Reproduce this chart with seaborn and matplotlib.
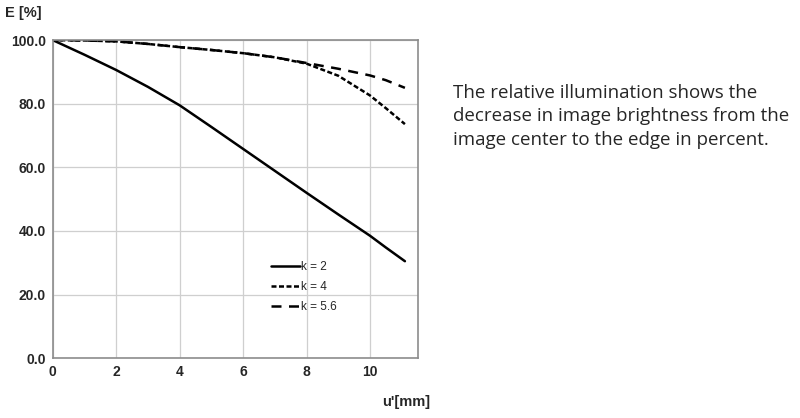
import matplotlib
matplotlib.use("Agg")
import matplotlib.pyplot as plt
import seaborn as sns
import pandas as pd

# image height u' [mm]
u = [0, 1, 2, 3, 4, 5, 6, 7, 8, 9, 10, 10.5, 11.1]
# relative illumination E [%] per f-number
e_k2 = [100, 95.4, 90.6, 85.3, 79.5, 72.7, 65.8, 58.9, 52.0, 45.2, 38.5, 34.8, 30.5]
e_k4 = [100, 99.9, 99.6, 98.8, 97.8, 96.9, 95.9, 94.6, 92.6, 88.8, 82.6, 78.6, 73.6]
e_k56 = [100, 99.9, 99.6, 98.8, 97.8, 96.9, 95.9, 94.6, 92.8, 91.0, 88.9, 87.4, 85.0]
labels = ["k = 2", "k = 4", "k = 5.6"]

df = pd.concat([
    pd.DataFrame({"u": u, "E": e_k2, "k": labels[0]}),
    pd.DataFrame({"u": u, "E": e_k4, "k": labels[1]}),
    pd.DataFrame({"u": u, "E": e_k56, "k": labels[2]}),
])

sns.set_style("white")
plt.rcParams["font.family"] = ["Liberation Sans", "DejaVu Sans"]

fig = plt.figure(figsize=(8, 4.18), dpi=100)
ax = fig.add_axes([0.066, 0.143, 0.456, 0.761])

sns.lineplot(data=df, x="u", y="E", style="k", color="black",
             dashes={"k = 2": "", "k = 4": (2, 1), "k = 5.6": (4, 3)},
             linewidth=1.8, ax=ax)

ax.set_xlim(0, 11.5)
ax.set_ylim(0, 100)
ax.set_xticks([0, 2, 4, 6, 8, 10])
ax.set_yticks([0, 20, 40, 60, 80, 100])
ax.set_yticklabels([f"{v:.1f}" for v in [0, 20, 40, 60, 80, 100]])
ax.grid(True, color="#cfcfcf", linewidth=0.9)
for s in ax.spines.values():
    s.set_color("#8c8c8c")
    s.set_linewidth(1.2)
ax.tick_params(axis="both", labelsize=10, length=3, color="#8c8c8c", pad=2)
for t in ax.get_xticklabels() + ax.get_yticklabels():
    t.set_fontweight("bold")
ax.set_xlabel("")
ax.set_ylabel("")

leg = ax.legend(loc="upper left", bbox_to_anchor=(0.57, 0.34), frameon=False,
                handlelength=2.4, handletextpad=0.1, labelspacing=0.7,
                fontsize=8.5, title=None)
for line in leg.get_lines():
    line.set_linewidth(1.8)

fig.text(0.006, 0.985, "E [%]", fontsize=10.5, fontweight="bold", va="top")
fig.text(0.538, 0.022, "u'[mm]", fontsize=10.5, fontweight="bold", ha="right", va="bottom")

fig.text(0.566, 0.80,
         "The relative illumination shows the\ndecrease in image brightness from the\nimage center to the edge in percent.",
         fontsize=13.5, family=["Open Sans", "DejaVu Sans"], va="top", linespacing=1.42)

fig.savefig("out.png", dpi=100)
